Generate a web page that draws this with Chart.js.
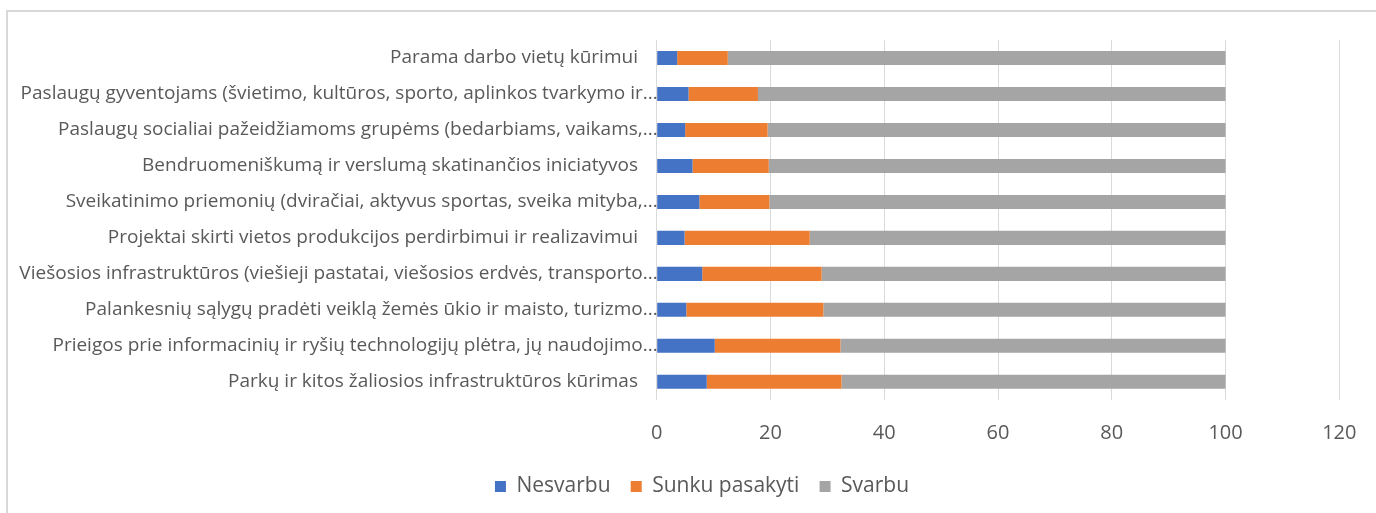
<!DOCTYPE html>
<html>
<head>
<meta charset="utf-8">
<script src="https://cdn.jsdelivr.net/npm/chart.js@4/dist/chart.umd.min.js"></script>
<style>
  html, body { margin: 0; padding: 0; background: #fff; overflow: hidden; width: 1376px; height: 513px; }
  #frame { position: absolute; left: 6px; top: 10px; width: 1388px; height: 505px; border: 2px solid #d9d9d9; background: #fff; }
  canvas { display: block; }
</style>
</head>
<body>
<div id="frame"><canvas id="c" width="1388" height="505"></canvas></div>
<script>
const categories = [
  "Parama darbo vietų kūrimui    ",
  "Paslaugų gyventojams (švietimo, kultūros, sporto, aplinkos tvarkymo ir...",
  "Paslaugų socialiai pažeidžiamoms grupėms (bedarbiams, vaikams,...",
  "Bendruomeniškumą ir verslumą skatinančios iniciatyvos    ",
  "Sveikatinimo priemonių (dviračiai, aktyvus sportas, sveika mityba,...",
  "Projektai skirti vietos produkcijos perdirbimui ir realizavimui    ",
  "Viešosios infrastruktūros (viešieji pastatai, viešosios erdvės, transporto...",
  "Palankesnių sąlygų pradėti veiklą žemės ūkio ir maisto, turizmo...",
  "Prieigos prie informacinių ir ryšių technologijų plėtra, jų naudojimo...",
  "Parkų ir kitos žaliosios infrastruktūros kūrimas    "
];
const seriesNames = ["Nesvarbu", "Sunku pasakyti", "Svarbu"];
const nesvarbu = [3.6, 5.6, 5.0, 6.3, 7.5, 4.9, 8.0, 5.2, 10.2, 8.8];
const sunkuPasakyti = [8.9, 12.2, 14.5, 13.4, 12.3, 22.0, 21.0, 24.1, 22.1, 23.7];
const svarbu = [87.5, 82.2, 80.5, 80.3, 80.2, 73.1, 71.0, 70.7, 67.7, 67.5];
const xTicks = { min: 0, max: 120, step: 20 };
const colors = ["#4472C4", "#ED7D31", "#A5A5A5"];

const FONT = "'Open Sans', Calibri, sans-serif";

new Chart(document.getElementById("c"), {
  type: "bar",
  data: {
    labels: categories,
    datasets: [
      { label: seriesNames[0], data: nesvarbu, backgroundColor: colors[0] },
      { label: seriesNames[1], data: sunkuPasakyti, backgroundColor: colors[1] },
      { label: seriesNames[2], data: svarbu, backgroundColor: colors[2] }
    ]
  },
  options: {
    indexAxis: "y",
    responsive: false,
    animation: false,
    devicePixelRatio: 1,
    layout: { padding: { top: 28, right: 0, left: 0, bottom: 10 } },
    datasets: { bar: { categoryPercentage: 1, barPercentage: 0.39, borderWidth: 0 } },
    scales: {
      x: {
        stacked: true,
        min: xTicks.min, max: xTicks.max,
        ticks: { stepSize: xTicks.step, color: "#595959", font: { family: FONT, size: 20 }, padding: 21 },
        grid: { color: "#d9d9d9", lineWidth: 1, drawTicks: false, tickLength: 0 },
        border: { display: false },
        afterFit(scale) { scale.height = 56; }
      },
      y: {
        stacked: true,
        ticks: { color: "#595959", font: { family: FONT, size: 19 }, padding: -1, autoSkip: false },
        grid: { display: false, drawTicks: false, tickLength: 0 },
        border: { display: false },
        afterFit(scale) { scale.width = 648.7; }
      },
      yRightSpace: {
        type: "linear",
        axis: "y",
        position: "right",
        display: true,
        ticks: { display: false },
        grid: { display: false, drawTicks: false },
        border: { display: false },
        afterFit(scale) { scale.width = 56.7; }
      }
    },
    plugins: {
      legend: {
        position: "bottom",
        labels: { boxWidth: 11, boxHeight: 11, padding: 20.2, color: "#595959", font: { family: FONT, size: 21 } }
      },
      tooltip: { enabled: false }
    }
  }
});
</script>
</body>
</html>
